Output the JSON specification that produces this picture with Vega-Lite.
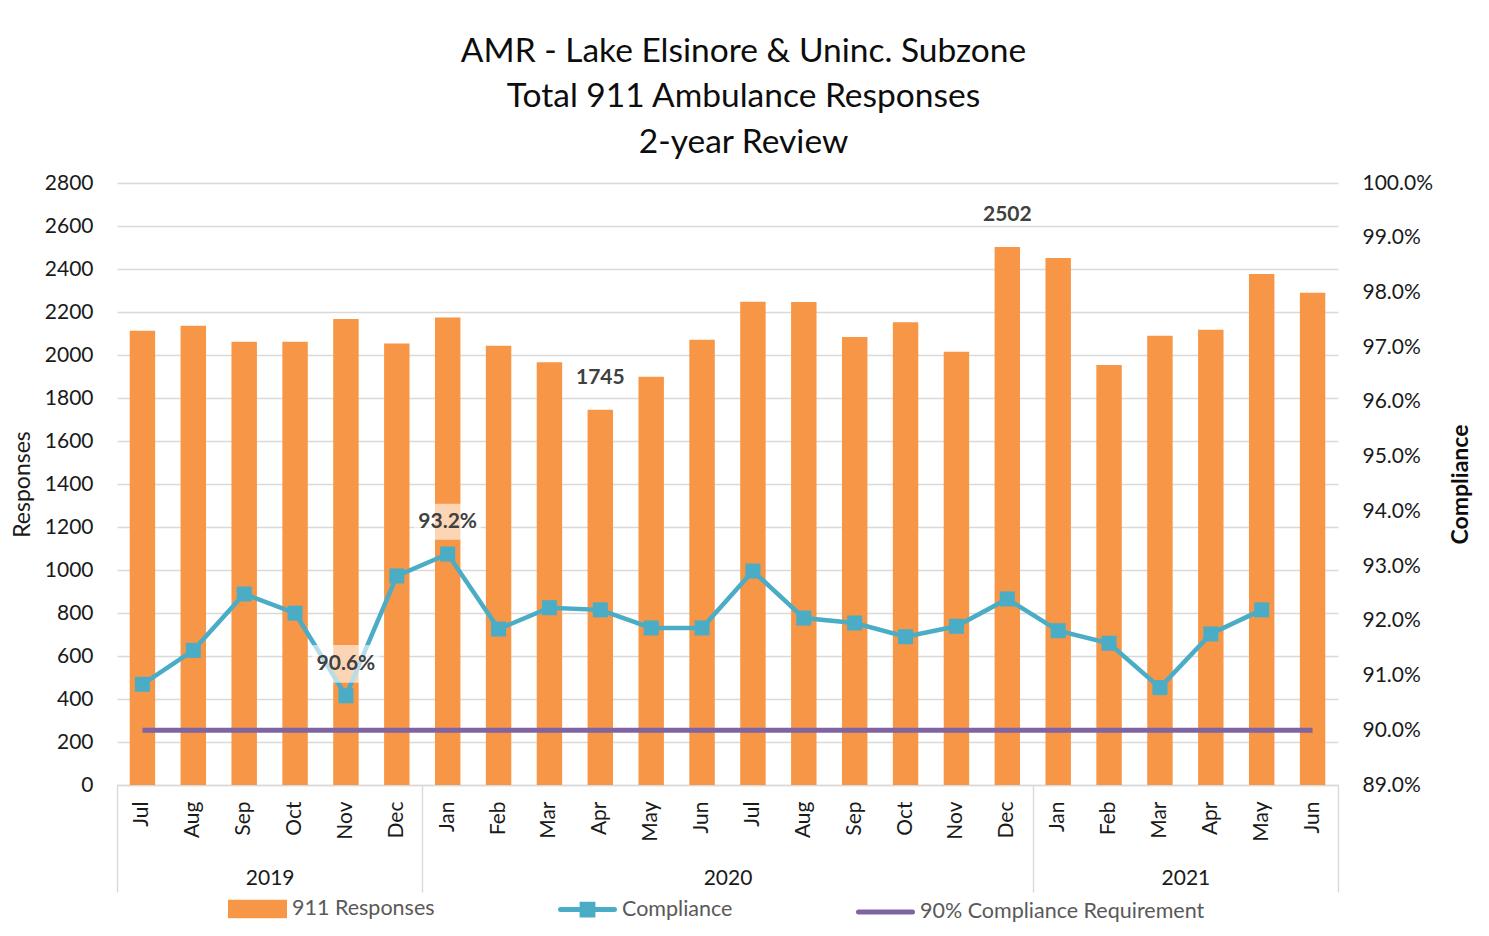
{
  "$schema": "https://vega.github.io/schema/vega-lite/v6.json",
  "width": 1221,
  "height": 602,
  "autosize": {"type": "none"},
  "padding": {"left": 117, "top": 183, "right": 151, "bottom": 151},
  "background": "white",
  "config": {"font": "Lato", "view": {"stroke": null}},
  "title": {
    "text": ["AMR - Lake Elsinore & Uninc. Subzone", "Total 911 Ambulance Responses", "2-year Review"],
    "fontSize": 33.5,
    "fontWeight": "normal",
    "color": "#0d0d0d",
    "lineHeight": 45.5,
    "anchor": "middle",
    "frame": "group",
    "dx": 16,
    "offset": 12
  },
  "datasets": {
    "monthly": [
      {"key": "Jul 2019", "responses": 2113, "compliance": 0.9084, "requirement": 0.90},
      {"key": "Aug 2019", "responses": 2136, "compliance": 0.9146, "requirement": 0.90},
      {"key": "Sep 2019", "responses": 2062, "compliance": 0.9249, "requirement": 0.90},
      {"key": "Oct 2019", "responses": 2062, "compliance": 0.9214, "requirement": 0.90},
      {"key": "Nov 2019", "responses": 2167, "compliance": 0.9063, "requirement": 0.90},
      {"key": "Dec 2019", "responses": 2053, "compliance": 0.9282, "requirement": 0.90},
      {"key": "Jan 2020", "responses": 2175, "compliance": 0.9322, "requirement": 0.90},
      {"key": "Feb 2020", "responses": 2043, "compliance": 0.9185, "requirement": 0.90},
      {"key": "Mar 2020", "responses": 1966, "compliance": 0.9224, "requirement": 0.90},
      {"key": "Apr 2020", "responses": 1745, "compliance": 0.9220, "requirement": 0.90},
      {"key": "May 2020", "responses": 1899, "compliance": 0.9187, "requirement": 0.90},
      {"key": "Jun 2020", "responses": 2071, "compliance": 0.9187, "requirement": 0.90},
      {"key": "Jul 2020", "responses": 2248, "compliance": 0.9291, "requirement": 0.90},
      {"key": "Aug 2020", "responses": 2246, "compliance": 0.9205, "requirement": 0.90},
      {"key": "Sep 2020", "responses": 2084, "compliance": 0.9196, "requirement": 0.90},
      {"key": "Oct 2020", "responses": 2152, "compliance": 0.9171, "requirement": 0.90},
      {"key": "Nov 2020", "responses": 2015, "compliance": 0.9190, "requirement": 0.90},
      {"key": "Dec 2020", "responses": 2502, "compliance": 0.9240, "requirement": 0.90},
      {"key": "Jan 2021", "responses": 2451, "compliance": 0.9182, "requirement": 0.90},
      {"key": "Feb 2021", "responses": 1953, "compliance": 0.9159, "requirement": 0.90},
      {"key": "Mar 2021", "responses": 2090, "compliance": 0.9078, "requirement": 0.90},
      {"key": "Apr 2021", "responses": 2118, "compliance": 0.9176, "requirement": 0.90},
      {"key": "May 2021", "responses": 2377, "compliance": 0.9220, "requirement": 0.90},
      {"key": "Jun 2021", "responses": 2290, "compliance": null, "requirement": 0.90}
    ],
    "years": [
      {"pos": 0},
      {"pos": 3, "year": "2019"},
      {"pos": 6},
      {"pos": 12, "year": "2020"},
      {"pos": 18},
      {"pos": 21, "year": "2021"},
      {"pos": 24}
    ]
  },
  "layer": [
    {
      "data": {"name": "monthly"},
      "layer": [
        {
          "layer": [
            {
              "mark": {"type": "bar", "color": "#F79646"},
              "encoding": {
                "x": {
                  "field": "key", "type": "ordinal", "sort": null,
                  "scale": {"paddingInner": 0.5, "paddingOuter": 0.25},
                  "axis": {
                    "title": null,
                    "labelExpr": "split(datum.label, ' ')[0]",
                    "labelAngle": 270,
                    "labelFontSize": 21,
                    "labelColor": "#1a1a1a",
                    "labelPadding": 16,
                    "ticks": false,
                    "domainColor": "#D9D9D9",
                    "domainWidth": 1.4,
                    "grid": false
                  }
                },
                "y": {
                  "field": "responses", "type": "quantitative",
                  "scale": {"domain": [0, 2800], "nice": false},
                  "axis": {
                    "values": [0, 200, 400, 600, 800, 1000, 1200, 1400, 1600, 1800, 2000, 2200, 2400, 2600, 2800],
                    "format": "d",
                    "title": "Responses",
                    "titleFontSize": 23,
                    "titleFontWeight": "normal",
                    "titleColor": "#1a1a1a",
                    "titlePadding": 10,
                    "labelFontSize": 21,
                    "labelColor": "#1a1a1a",
                    "labelPadding": 24,
                    "ticks": false,
                    "domain": false,
                    "gridColor": "#D9D9D9",
                    "gridWidth": 1.4
                  }
                },
                "color": {
                  "datum": "911 Responses", "type": "nominal",
                  "scale": {
                    "domain": ["911 Responses", "Compliance", "90% Compliance Requirement"],
                    "range": ["#F79646", "#4BACC6", "#8064A2"]
                  },
                  "legend": {
                    "orient": "none",
                    "legendX": 111,
                    "legendY": 696,
                    "direction": "horizontal",
                    "title": null,
                    "padding": 0,
                    "symbolSize": 2916,
                    "symbolType": "M-1,-0.25H1V0.25H-1Z",
                    "labelFontSize": 21.5,
                    "labelColor": "#595959",
                    "labelOffset": 5,
                    "columnPadding": 115,
                    "labelLimit": 400,
                    "encode": {
                      "symbols": {
                        "update": {
                          "shape": {"signal": "datum.value == '911 Responses' ? 'M-1,-0.25H1V0.25H-1Z' : datum.value == 'Compliance' ? 'M-1,0H1M-0.2,-0.2H0.2V0.2H-0.2Z' : 'M-1,0H1'"},
                          "fill": {"signal": "datum.value == '911 Responses' ? '#F79646' : datum.value == 'Compliance' ? '#4BACC6' : 'transparent'"},
                          "stroke": {"signal": "datum.value == '911 Responses' ? 'transparent' : datum.value == 'Compliance' ? '#4BACC6' : '#8064A2'"},
                          "strokeWidth": {"value": 5},
                          "strokeCap": {"value": "round"},
                          "opacity": {"value": 1},
                          "fillOpacity": {"value": 1},
                          "strokeOpacity": {"value": 1}
                        }
                      }
                    }
                  }
                }
              }
            },
            {
              "transform": [{"filter": "datum.responses == 2502 || datum.responses == 1745"}],
              "mark": {"type": "text", "fontSize": 21, "fontWeight": "bold", "color": "#404040", "baseline": "middle", "dy": -32},
              "encoding": {
                "x": {"field": "key", "type": "ordinal", "sort": null},
                "y": {"field": "responses", "type": "quantitative"},
                "text": {"field": "responses", "type": "quantitative", "format": "d"}
              }
            }
          ]
        },
        {
          "layer": [
            {
              "mark": {"type": "line", "strokeWidth": 5},
              "encoding": {
                "x": {"field": "key", "type": "ordinal", "sort": null},
                "y": {
                  "field": "requirement", "type": "quantitative",
                  "scale": {"domain": [0.89, 1.0], "nice": false, "zero": false},
                  "axis": {
                    "orient": "right",
                    "values": [0.89, 0.90, 0.91, 0.92, 0.93, 0.94, 0.95, 0.96, 0.97, 0.98, 0.99, 1.0],
                    "format": ".1%",
                    "title": "Compliance",
                    "titleFontSize": 23,
                    "titleFontWeight": "bold",
                    "titleColor": "#0d0d0d",
                    "titleAngle": 270,
                    "titlePadding": 40,
                    "labelFontSize": 21,
                    "labelColor": "#1a1a1a",
                    "labelPadding": 24,
                    "ticks": false,
                    "domain": false,
                    "grid": false
                  }
                },
                "color": {"datum": "90% Compliance Requirement", "type": "nominal"}
              }
            },
            {
              "mark": {"type": "line", "strokeWidth": 4.5, "point": {"shape": "square", "size": 225, "filled": true, "opacity": 1}},
              "encoding": {
                "x": {"field": "key", "type": "ordinal", "sort": null},
                "y": {"field": "compliance", "type": "quantitative"},
                "color": {"datum": "Compliance", "type": "nominal"}
              }
            },
            {
              "transform": [{"filter": "datum.key == 'Nov 2019'"}],
              "mark": {"type": "bar", "color": "white", "opacity": 0.6, "width": {"band": 2.65}},
              "encoding": {
                "x": {"field": "key", "type": "ordinal", "sort": null},
                "y": {"datum": 0.9156},
                "y2": {"datum": 0.9087}
              }
            },
            {
              "transform": [{"filter": "datum.key == 'Jan 2020'"}],
              "mark": {"type": "bar", "color": "white", "opacity": 0.6, "width": {"band": 2.65}},
              "encoding": {
                "x": {"field": "key", "type": "ordinal", "sort": null},
                "y": {"datum": 0.9414},
                "y2": {"datum": 0.9348}
              }
            },
            {
              "transform": [{"filter": "datum.compliance == 0.9322 || datum.compliance == 0.9063"}],
              "mark": {"type": "text", "fontSize": 21, "fontWeight": "bold", "color": "#404040", "baseline": "middle", "dy": -32},
              "encoding": {
                "x": {"field": "key", "type": "ordinal", "sort": null},
                "y": {"field": "compliance", "type": "quantitative"},
                "text": {"field": "compliance", "type": "quantitative", "format": ".1%"}
              }
            }
          ]
        }
      ],
      "resolve": {"scale": {"y": "independent"}}
    },
    {
      "data": {"name": "years"},
      "mark": {"type": "point", "opacity": 0},
      "encoding": {
        "x": {
          "field": "pos", "type": "quantitative",
          "scale": {"domain": [0, 24], "nice": false, "zero": false},
          "axis": {
            "orient": "bottom",
            "values": [0, 3, 6, 12, 18, 21, 24],
            "title": null,
            "grid": false,
            "domain": false,
            "tickSize": 107,
            "tickWidth": 1.4,
            "tickColor": {"condition": {"test": "datum.value == 3 || datum.value == 12 || datum.value == 21", "value": "transparent"}, "value": "#D9D9D9"},
            "labelExpr": "datum.value == 3 ? '2019' : datum.value == 12 ? '2020' : datum.value == 21 ? '2021' : ''",
            "labelFontSize": 21,
            "labelColor": "#1a1a1a",
            "labelPadding": -14,
            "labelBaseline": "middle",
            "labelFlush": false,
            "labelOverlap": false,
            "labelBound": false
          }
        }
      }
    }
  ],
  "resolve": {"scale": {"x": "independent"}}
}
